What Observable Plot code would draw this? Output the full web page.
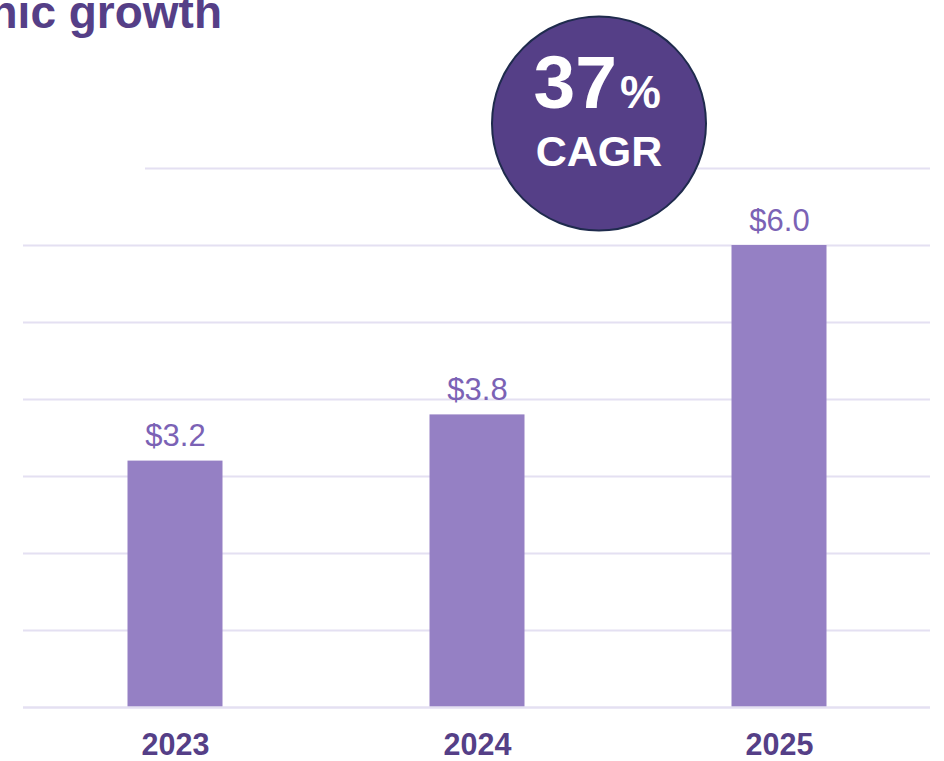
<!DOCTYPE html>
<html>
<head>
<meta charset="utf-8">
<script src="https://cdn.jsdelivr.net/npm/d3@7"></script>
<script src="https://cdn.jsdelivr.net/npm/@observablehq/plot@0.6"></script>
<style>
  html, body { margin: 0; padding: 0; background: #ffffff; overflow: hidden; }
  #chart { width: 944px; height: 761px; }
</style>
</head>
<body>
<div id="chart"></div>
<script>
// ---- data ----
const years = ["2023", "2024", "2025"];
const revenue = [3.2, 3.8, 6.0];
const gridValues = [1, 2, 3, 4, 5, 6];
const topGridValue = [7];
const baselineValue = [0];
const cagrNumber = "37";
const cagrUnit = "%";
const cagrLabel = "CAGR";
const titleText = "nic growth";

const data = years.map((year, i) => ({year, value: revenue[i]}));

const titleColor = "#553f87";
const barColor = "#9580c4";
const labelColor = "#7b62b5";
const gridColor = "#e4e0f2";

const chart = Plot.plot({
  width: 944,
  height: 761,
  marginLeft: 23,
  marginRight: 14,
  marginTop: 168,
  marginBottom: 54,
  x: {domain: years, padding: 0, axis: null},
  y: {domain: [0, 7], axis: null},
  style: {fontFamily: "'Liberation Sans', Arial, sans-serif", background: "#ffffff", overflow: "visible"},
  marks: [
    Plot.ruleY(gridValues, {stroke: gridColor, strokeWidth: 2}),
    Plot.ruleY(topGridValue, {stroke: gridColor, strokeWidth: 2, insetLeft: 122}),
    Plot.barY(data, {x: "year", y: "value", fill: barColor, insetLeft: 103.5, insetRight: 103.5}),
    Plot.ruleY(baselineValue, {stroke: gridColor, strokeWidth: 2.5}),
    Plot.text(data, {
      x: "year", y: "value",
      text: d => "$" + d.value.toFixed(1),
      lineAnchor: "bottom", dy: -15,
      fontSize: 31, fill: labelColor
    }),
    Plot.text(years, {
      x: d => d, frameAnchor: "bottom",
      lineAnchor: "bottom", dy: 47,
      fontSize: 30.5, fontWeight: "bold", fill: titleColor
    }),
    // title (cropped at left in the reference)
    Plot.text([titleText], {
      frameAnchor: "top-left", textAnchor: "start",
      lineAnchor: "bottom", dx: -34, dy: -141,
      fontSize: 46, fontWeight: "bold", fill: titleColor
    }),
    // CAGR badge
    Plot.dot([cagrLabel], {
      frameAnchor: "top", dx: 122, dy: -45, r: 107,
      fill: titleColor, stroke: "#1f2b4d", strokeWidth: 2
    }),
    Plot.text([cagrNumber], {
      frameAnchor: "top", textAnchor: "end", lineAnchor: "bottom",
      dx: 140, dy: -61,
      fontSize: 75, fontWeight: "bold", fill: "#ffffff"
    }),
    Plot.text([cagrUnit], {
      frameAnchor: "top", textAnchor: "start", lineAnchor: "bottom",
      dx: 143, dy: -61,
      fontSize: 46, fontWeight: "bold", fill: "#ffffff"
    }),
    Plot.text([cagrLabel], {
      frameAnchor: "top", textAnchor: "middle", lineAnchor: "bottom",
      dx: 122, dy: -3,
      fontSize: 43, fontWeight: "bold", fill: "#ffffff"
    })
  ]
});
document.getElementById("chart").appendChild(chart);
</script>
</body>
</html>
